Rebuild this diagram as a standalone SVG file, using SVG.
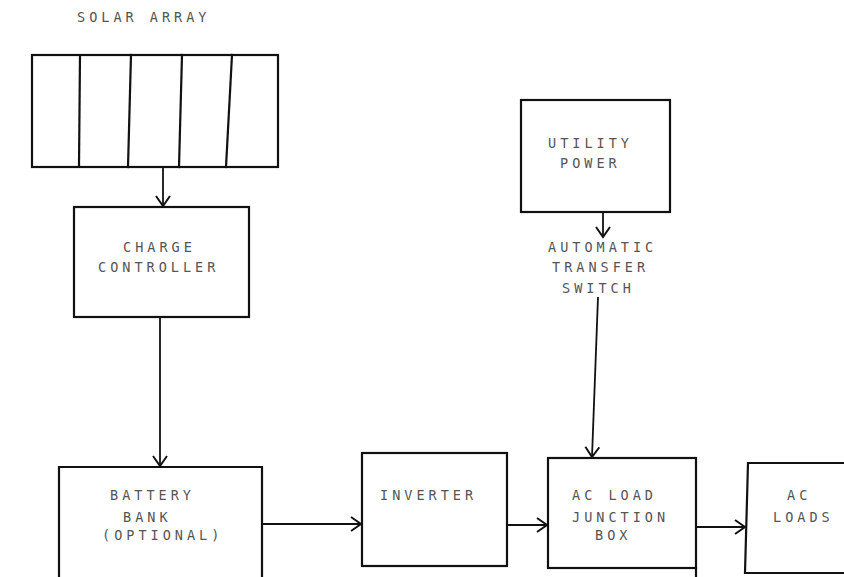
<svg xmlns="http://www.w3.org/2000/svg" width="844" height="577" viewBox="0 0 844 577">
<style>
.b{fill:none;stroke:#111;stroke-width:2.2;stroke-linecap:square}
.c{fill:none;stroke:#111;stroke-width:1.8}
text{font-family:"DejaVu Sans Mono","Liberation Mono",monospace;font-size:13.5px;fill:#555;letter-spacing:4px}
</style>
<defs>
<marker id="ah" markerWidth="14" markerHeight="16" refX="11" refY="8" orient="auto" markerUnits="userSpaceOnUse">
<polyline points="1,1 11,8 1,15" fill="none" stroke="#111" stroke-width="2"/>
</marker>
</defs>
<rect width="844" height="577" fill="#fff"/>
<g id="solar-array">
<text x="77" y="22">SOLAR ARRAY</text>
<rect class="b" x="32" y="55" width="246" height="112"/>
<line class="b" x1="80" y1="55" x2="79" y2="167"/>
<line class="b" x1="131" y1="55" x2="128" y2="167"/>
<line class="b" x1="182" y1="55" x2="179" y2="167"/>
<line class="b" x1="232" y1="55" x2="226" y2="167"/>
</g>
<g id="charge-controller">
<rect class="b" x="74" y="207" width="175" height="110"/>
<text x="123" y="252">CHARGE</text>
<text x="98" y="272">CONTROLLER</text>
</g>
<g id="utility-power">
<rect class="b" x="521" y="100" width="149" height="112"/>
<text x="548" y="148">UTILITY</text>
<text x="560" y="168">POWER</text>
</g>
<g id="transfer-switch">
<text x="548" y="252">AUTOMATIC</text>
<text x="552" y="272">TRANSFER</text>
<text x="562" y="293">SWITCH</text>
</g>
<g id="battery-bank">
<path class="b" d="M59,580 V467 H262 V580"/>
<text x="110" y="500">BATTERY</text>
<text x="123" y="522">BANK</text>
<text x="102" y="540">(OPTIONAL)</text>
</g>
<g id="inverter">
<rect class="b" x="362" y="453" width="145" height="113"/>
<text x="380" y="500">INVERTER</text>
</g>
<g id="junction-box">
<rect class="b" x="548" y="458" width="148" height="110"/>
<line class="b" x1="696" y1="568" x2="696" y2="577"/>
<text x="572" y="500">AC LOAD</text>
<text x="572" y="522">JUNCTION</text>
<text x="595" y="540">BOX</text>
</g>
<g id="ac-loads">
<path class="b" d="M846,463 H748 L745,573 H846"/>
<text x="787" y="500">AC</text>
<text x="773" y="522">LOADS</text>
</g>
<g id="connectors">
<line class="c" x1="163" y1="167" x2="163" y2="206" marker-end="url(#ah)"/>
<line class="c" x1="160" y1="317" x2="160" y2="466" marker-end="url(#ah)"/>
<line class="c" x1="603" y1="212" x2="603" y2="237" marker-end="url(#ah)"/>
<line class="c" x1="598" y1="297" x2="592" y2="457" marker-end="url(#ah)"/>
<line class="c" x1="262" y1="524" x2="361" y2="524" marker-end="url(#ah)"/>
<line class="c" x1="507" y1="525" x2="547" y2="525" marker-end="url(#ah)"/>
<line class="c" x1="696" y1="527" x2="745" y2="527" marker-end="url(#ah)"/>
</g>
</svg>
